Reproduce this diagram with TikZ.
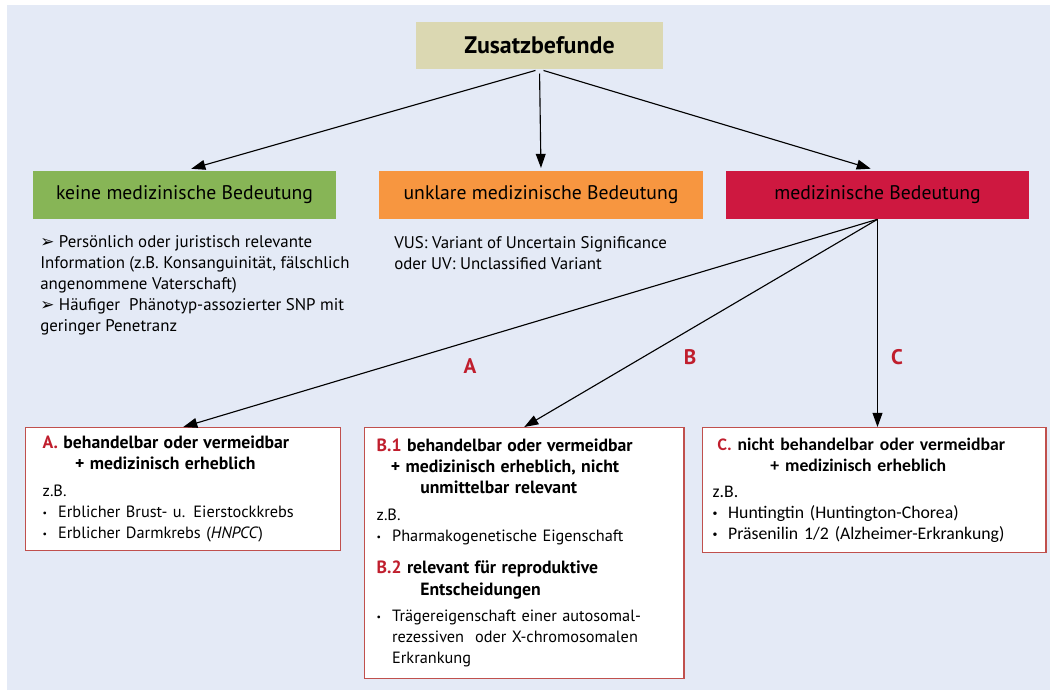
\documentclass[tikz,border=0pt]{standalone}
\usepackage{fontspec}
\setmainfont{PT Sans}
\newfontfamily\symfont{DejaVu Sans}
\newfontfamily\calfont{Carlito}
\usepackage{tikz}
\usetikzlibrary{arrows.meta,positioning}
\definecolor{bgblue}{RGB}{228,234,246}
\definecolor{beige}{RGB}{219,216,178}
\definecolor{mygreen}{RGB}{135,181,86}
\definecolor{myorange}{RGB}{247,150,64}
\definecolor{myred}{RGB}{206,24,64}
\definecolor{boxred}{RGB}{192,80,77}
\definecolor{lettred}{RGB}{192,30,45}
\newcommand{\pfeil}{{\symfont\fontsize{12}{12}\selectfont ➢}}
\newcommand{\punkt}{\makebox[11pt][l]{\fontsize{7}{7}\selectfont\raisebox{0.3ex}{•}}}
\newcommand{\kopf}[1]{{\fontsize{12.6}{15}\selectfont\bfseries #1}}

\begin{document}
\begin{tikzpicture}[x=0.025cm,y=-0.025cm,inner sep=0pt]
\tikzstyle{head}=[rectangle, minimum height=1.2cm, font=\fontsize{14}{16}\selectfont]
\tikzstyle{plain}=[anchor=north west, align=left, font=\fontsize{12}{15}\selectfont]
\tikzstyle{casebox}=[rectangle, draw=boxred, line width=1pt, fill=white, anchor=north west, align=left, font=\fontsize{11.6}{15}\selectfont]
\tikzstyle{connect}=[-{Triangle[length=10pt,width=7pt]}, line width=0.8pt]
\tikzstyle{letter}=[text=lettred, font=\bfseries\fontsize{15}{18}\selectfont]
\fill[bgblue] (7,5) rectangle (1050,690);
\useasboundingbox (0,0) rectangle (1050,690);

\node[head, fill=beige, minimum width=6.175cm, minimum height=1.175cm, font=\bfseries\fontsize{17}{20}\selectfont] (zusatz) at (539.5,45.5) {Zusatzbefunde};
\node[head, fill=mygreen, minimum width=7.575cm] (keine) at (184.5,195) {keine medizinische Bedeutung};
\node[head, fill=myorange, minimum width=8.1cm] (unklar) at (541,195) {unklare medizinische Bedeutung};
\node[head, fill=myred, minimum width=7.575cm] (med) at (877.5,195) {medizinische Bedeutung};

\node[plain] (keinetext) at (40,235) {\pfeil\ Persönlich oder juristisch relevante\\
Information (z.B. Konsanguinität, fälschlich\\
angenommene Vaterschaft)\\
\pfeil\ Häufiger\ \ Phänotyp-assozierter SNP mit\\
geringer Penetranz};
\node[plain] (unklartext) at (394,236) {VUS: Variant of Uncertain Significance\\
oder UV: Unclassified Variant};

\node[casebox, text width=7.025cm, inner xsep=0.425cm, minimum height=3.075cm] (boxa) at (25,427) {%
\kopf{\textcolor{lettred}{A.} behandelbar oder vermeidbar}\\
\hspace*{23pt}\kopf{+ medizinisch erheblich}\\[4pt]
z.B.\\
\punkt Erblicher Brust- u. Eierstockkrebs\\
\punkt Erblicher Darmkrebs (\textit{HNPCC})};
\node[casebox, text width=7.375cm, inner xsep=0.3cm, minimum height=6.275cm] (boxb) at (364,427) {%
\kopf{\textcolor{lettred}{B.1} behandelbar oder vermeidbar}\\
\hspace*{10pt}\kopf{+ medizinisch erheblich, nicht}\\
\hspace*{31pt}\kopf{unmittelbar relevant}\\[4pt]
z.B.\\
\punkt Pharmakogenetische Eigenschaft\\[8pt]
\kopf{\textcolor{lettred}{B.2} relevant für reproduktive}\\
\hspace*{31pt}\kopf{Entscheidungen}\\[4pt]
\punkt Trägereigenschaft einer autosomal-\\
\hspace*{11pt}rezessiven\ \ oder X-chromosomalen\\
\hspace*{11pt}Erkrankung};
\node[casebox, text width=8.075cm, inner xsep=0.25cm, minimum height=3.125cm, font=\calfont\fontsize{12.6}{15}\selectfont] (boxc) at (702,427) {%
\hspace*{3.5pt}{\bfseries\textcolor{lettred}{C.} nicht behandelbar oder vermeidbar}\\
\hspace*{41pt}{\bfseries + medizinisch erheblich}\\[3pt]
z.B.\\
\punkt Huntingtin (Huntington-Chorea)\\
\punkt Präsenilin 1/2 (Alzheimer-Erkrankung)};

\node[letter] (la) at (470,366) {A};
\node[letter] (lb) at (690,357) {B};
\node[letter] (lc) at (897,357) {C};

\path (zusatz.south) edge[connect, shorten <=3pt, shorten >=5pt] (keine.north)
      edge[connect, shorten <=3pt, shorten >=2pt] (unklar.north)
      edge[connect, shorten <=3pt, shorten >=5pt] (med.north);
\path (med.south) edge[connect] (boxa.north)
      edge[connect] (boxb.north);
\draw[connect] (med.south) -- (med.south |- boxc.north);
\end{tikzpicture}
\end{document}
